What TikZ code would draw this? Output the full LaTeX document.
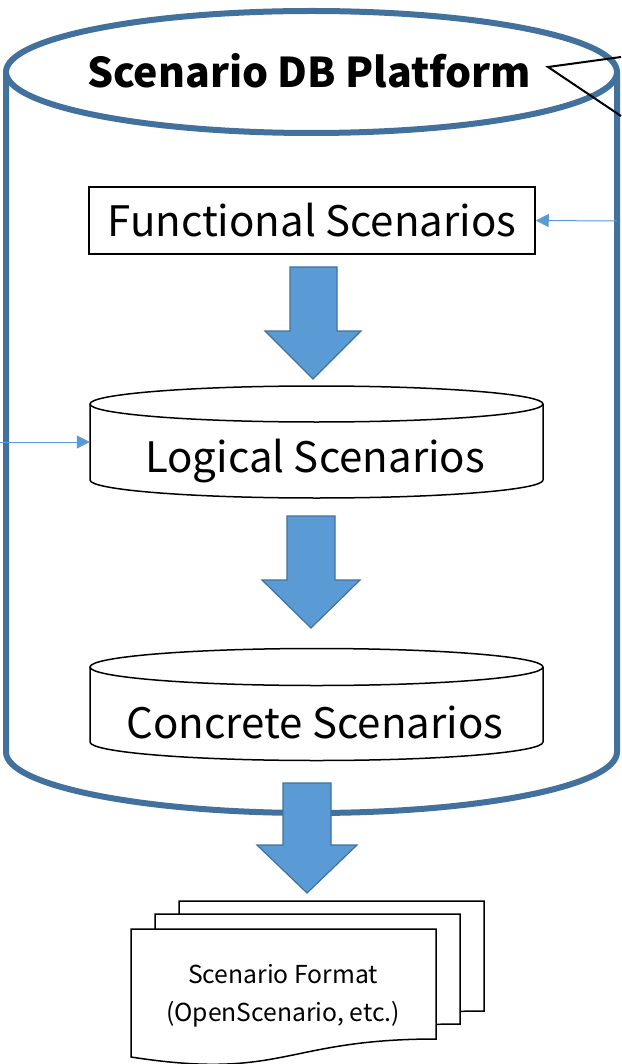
\documentclass[tikz,border=0pt]{standalone}
\usepackage{fontspec}
\setmainfont{Noto Sans CJK JP}
\usetikzlibrary{arrows.meta}
\definecolor{dbedge}{HTML}{41719C}
\definecolor{dbfill}{HTML}{5B9BD5}

\tikzset{
  platform/.style={draw=dbedge, line width=6pt, fill=white},
  store/.style={draw=black, line width=1.5pt, fill=white},
  flowarrow/.style={fill=dbfill, draw=dbedge, line width=1.2pt, line join=miter},
  feed/.style={draw=dbfill, line width=1pt, -{Triangle[length=13pt,width=13pt]}},
  caption/.style={font=\fontsize{42}{50}\selectfont, inner sep=0pt},
  docpage/.style={draw=black, line width=1.5pt, fill=white, line join=miter},
  callout/.style={draw=black, line width=2pt, line join=miter},
}

\begin{document}
\begin{tikzpicture}[x=1pt, y=-1pt]
  \fill[white] (0,0) rectangle (621,1064);
  \useasboundingbox (0,0) rectangle (621,1064);

  % platform cylinder: body, then top lid
  \draw[platform] (6,72) -- (6,752)
    .. controls (6,785.7) and (142.8,813) .. (311.5,813)
    .. controls (480.2,813) and (617,785.7) .. (617,752) -- (617,72);
  \draw[platform] (311.5,72) ellipse [x radius=305.5, y radius=61];
  \node[font=\bfseries\fontsize{41}{48}\selectfont, inner sep=0pt] (title) at (309,71) {Scenario DB Platform};
  \coordinate (tip) at (548,67);
  \coordinate (c1) at (621,57);
  \coordinate (c2) at (621,116);
  \draw[callout] (c1) -- (tip) -- (c2);

  % functional scenarios
  \node[caption, draw, line width=1.5pt, minimum width=446pt, minimum height=67pt] (func) at (312,220.5) {Functional Scenarios};
  \coordinate (rwall) at (617,221);
  \draw[feed] (rwall) -- (func.east);

  \draw[flowarrow] (290,267) -- (337,267) -- (337,331) -- (361,331) -- (313,379) -- (265,331) -- (290,331) -- cycle;

  % logical scenarios store
  \draw[store] (90,404) -- (90,480)
    .. controls (90,489.9) and (191.4,498) .. (316.5,498)
    .. controls (441.6,498) and (543,489.9) .. (543,480) -- (543,404);
  \draw[store] (316.5,404) ellipse [x radius=226.5, y radius=18];
  \node[minimum width=453pt, minimum height=76pt, inner sep=0pt] (logicalbody) at (316.5,442) {};
  \node[caption] (logical) at (315,461) {Logical Scenarios};
  \coordinate (lwall) at (0,442);
  \draw[feed] (lwall) -- (logicalbody.west);

  \draw[flowarrow] (287,516) -- (335,516) -- (335,580) -- (360,580) -- (311,628) -- (262,580) -- (287,580) -- cycle;

  % concrete scenarios store
  \draw[store] (90,667) -- (90,742)
    .. controls (90,752.2) and (191.4,760.5) .. (316.5,760.5)
    .. controls (441.6,760.5) and (543,752.2) .. (543,742) -- (543,667);
  \draw[store] (316.5,667) ellipse [x radius=226.5, y radius=18.5];
  \node[caption] (concrete) at (315,722) {Concrete Scenarios};

  \draw[flowarrow] (283,783) -- (331,783) -- (331,845) -- (357,845) -- (307,893) -- (257,845) -- (283,845) -- cycle;

  % output document stack
  \draw[docpage, shift={(179,901)}] (0,0) -- (305,0) -- (305,110)
    .. controls (152.5,110) and (152.5,151.7) .. (0,128) -- cycle;
  \draw[docpage, shift={(155,914)}] (0,0) -- (305,0) -- (305,110)
    .. controls (152.5,110) and (152.5,151.7) .. (0,128) -- cycle;
  \draw[docpage, shift={(131,929)}] (0,0) -- (305,0) -- (305,110)
    .. controls (152.5,110) and (152.5,151.7) .. (0,128) -- cycle;
  \node[font=\fontsize{24.7}{38}\selectfont, align=center, inner sep=0pt] (fmt) at (283,996) {Scenario Format\\(OpenScenario, etc.)};
\end{tikzpicture}
\end{document}
